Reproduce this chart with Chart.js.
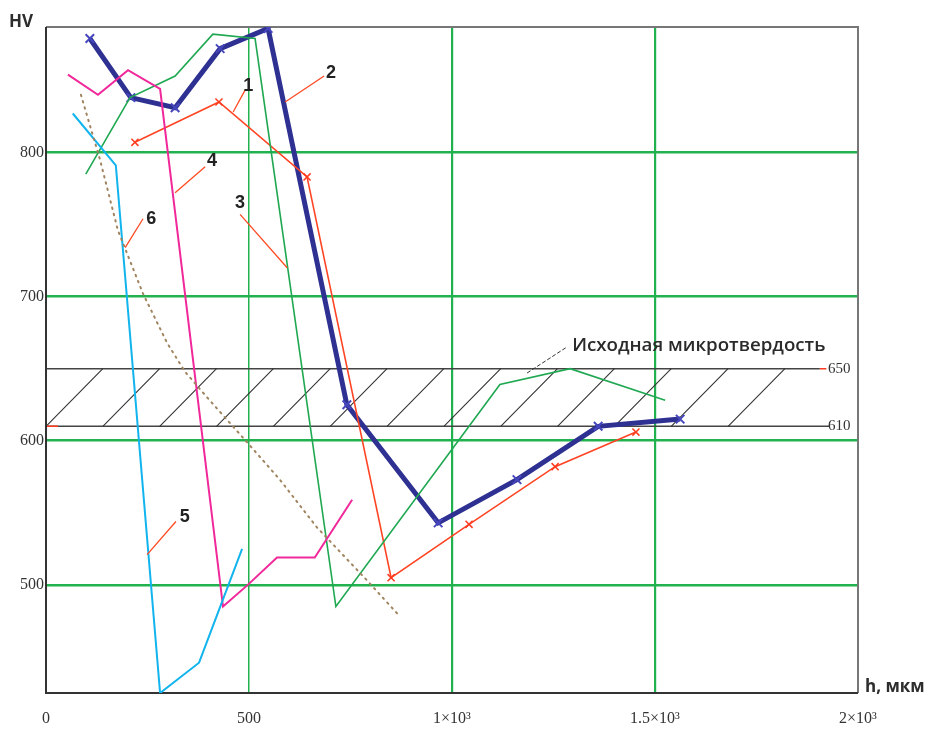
<!DOCTYPE html>
<html>
<head>
<meta charset="utf-8">
<script src="https://cdn.jsdelivr.net/npm/chart.js@4.4.1/dist/chart.umd.min.js"></script>
<style>
html, body { margin: 0; padding: 0; background: #fff; }
</style>
</head>
<body>
<canvas id="c" width="927" height="729"></canvas>
<script>
// ---- data ----
const xTicks = [0, 500, 1000, 1500, 2000];
const xTickLabels = ["0", "500", "1×10³", "1.5×10³", "2×10³"];
const yTicks = [500, 600, 700, 800];

const curve1X = [219, 426, 643, 850, 1042, 1254, 1453];
const curve1Y = [807, 835, 783, 505, 542, 582, 606];

const curve2X = [108, 209, 318, 429, 547, 741, 966, 1160, 1360, 1562];
const curve2Y = [879, 838, 831, 872, 886, 625, 543, 573, 610, 615];

const curve3X = [98, 207, 318, 411, 515, 714, 1118, 1291, 1525];
const curve3Y = [785, 838, 853, 882, 879, 485, 639, 650, 628];

const curve4X = [54, 128, 202, 281, 436, 497, 569, 662, 754];
const curve4Y = [854, 840, 857, 844, 485, 500, 519, 519, 559];

const curve5X = [66, 172, 281, 377, 483];
const curve5Y = [827, 791, 425, 446, 525];

const curve6X = [86, 133, 177, 239, 298, 342, 397, 495, 576, 667, 791, 872];
const curve6Y = [840, 795, 746, 702, 668, 648, 630, 599, 573, 540, 503, 478];

// initial microhardness band
const bandLow = 610;
const bandHigh = 650;

// curve numbers: text position and leader line end
const noteNames = ["1", "2", "3", "4", "5", "6"];
const noteTextX = [498, 702, 478, 409, 342, 259];
const noteTextY = [846, 855, 765, 794, 547, 754];
const noteFromX = [490, 685, 478, 392, 320, 239];
const noteFromY = [843, 853, 757, 790, 544, 754];
const noteToX = [461, 589, 594, 318, 249, 195];
const noteToY = [828, 835, 720, 772, 521, 734];

const toPoints = (xs, ys) => xs.map((v, i) => ({ x: v, y: ys[i] }));

const GRID_GREEN = "#22b14f";

// ---- extra drawing: frame, band, notes ----
const overlay = {
    id: "overlay",
    beforeDatasetsDraw(chart) {
        const { ctx, chartArea: a, scales: { x, y } } = chart;
        const px = v => x.getPixelForValue(v);
        const py = v => y.getPixelForValue(v);
        ctx.save();

        // band lines
        ctx.strokeStyle = "#444";
        ctx.lineWidth = 1.5;
        ctx.beginPath();
        ctx.moveTo(px(0), py(bandHigh));
        ctx.lineTo(px(1906), py(bandHigh));
        ctx.moveTo(px(0), py(bandLow));
        ctx.lineTo(px(1931), py(bandLow));
        ctx.stroke();

        // hatching
        ctx.lineWidth = 1.1;
        ctx.strokeStyle = "#333";
        ctx.beginPath();
        for (let s = 0; s <= 1680; s += 140) {
            ctx.moveTo(px(s), py(bandLow));
            ctx.lineTo(px(s + 140), py(bandHigh));
        }
        ctx.stroke();

        // small red dashes
        ctx.strokeStyle = "#ff3b1f";
        ctx.lineWidth = 1.5;
        ctx.beginPath();
        ctx.moveTo(px(1906), py(bandHigh));
        ctx.lineTo(px(1922), py(bandHigh));
        ctx.moveTo(a.left + 1, py(bandLow));
        ctx.lineTo(a.left + 12, py(bandLow));
        ctx.stroke();

        ctx.fillStyle = "#333";
        ctx.font = "15px 'Liberation Serif'";
        ctx.textAlign = "left";
        ctx.textBaseline = "middle";
        ctx.fillText(String(bandHigh), px(1926), py(bandHigh));
        ctx.fillText(String(bandLow), px(1926), py(bandLow));

        // frame
        ctx.strokeStyle = "#777";
        ctx.lineWidth = 2;
        ctx.beginPath();
        ctx.moveTo(a.left, a.top);
        ctx.lineTo(a.right, a.top);
        ctx.lineTo(a.right, a.bottom);
        ctx.stroke();
        ctx.strokeStyle = "#333";
        ctx.beginPath();
        ctx.moveTo(a.left, a.top);
        ctx.lineTo(a.left, a.bottom);
        ctx.lineTo(a.right, a.bottom);
        ctx.stroke();
        ctx.restore();
    },
    afterDatasetsDraw(chart) {
        const { ctx, scales: { x, y } } = chart;
        const px = v => x.getPixelForValue(v);
        const py = v => y.getPixelForValue(v);
        ctx.save();

        // leader lines
        ctx.strokeStyle = "#ff4a22";
        ctx.lineWidth = 1.3;
        ctx.beginPath();
        noteNames.forEach((n, i) => {
            ctx.moveTo(px(noteFromX[i]), py(noteFromY[i]));
            ctx.lineTo(px(noteToX[i]), py(noteToY[i]));
        });
        ctx.stroke();

        ctx.fillStyle = "#222";
        ctx.font = "bold 18px 'Liberation Sans'";
        ctx.textAlign = "center";
        ctx.textBaseline = "middle";
        noteNames.forEach((n, i) => {
            ctx.fillText(n, px(noteTextX[i]), py(noteTextY[i]));
        });

        // band note
        ctx.strokeStyle = "#333";
        ctx.lineWidth = 1;
        ctx.setLineDash([4, 2]);
        ctx.beginPath();
        ctx.moveTo(px(1185), py(647));
        ctx.lineTo(px(1283), py(665));
        ctx.stroke();
        ctx.setLineDash([]);
        ctx.textAlign = "left";
        ctx.font = "600 18.7px 'Open Sans'";
        ctx.fillStyle = "#2a2a2a";
        ctx.fillText("Исходная микротвердость", px(1296), py(666));

        // axis titles
        ctx.font = "bold 17px 'Open Sans'";
        ctx.fillStyle = "#2d2d2d";
        ctx.fillText("HV", 9, 22);
        ctx.fillText("h, мкм", 865, 687);
        ctx.restore();
    }
};

new Chart(document.getElementById("c"), {
    type: "line",
    data: {
        datasets: [
            {
                label: "6",
                data: toPoints(curve6X, curve6Y),
                borderColor: "#a0845f",
                borderWidth: 2,
                borderDash: [1.5, 5],
                borderCapStyle: "round",
                pointRadius: 0
            },
            {
                label: "5",
                data: toPoints(curve5X, curve5Y),
                borderColor: "#12b4ee",
                borderWidth: 2,
                pointRadius: 0
            },
            {
                label: "4",
                data: toPoints(curve4X, curve4Y),
                borderColor: "#f0289a",
                borderWidth: 2,
                pointRadius: 0
            },
            {
                label: "3",
                data: toPoints(curve3X, curve3Y),
                borderColor: "#1fa851",
                borderWidth: 1.6,
                pointRadius: 0
            },
            {
                label: "1",
                data: toPoints(curve1X, curve1Y),
                borderColor: "#ff4424",
                borderWidth: 1.6,
                pointStyle: "crossRot",
                pointRadius: 5,
                pointBorderWidth: 1.5,
                pointBorderColor: "#ff3b1f"
            },
            {
                label: "2",
                data: toPoints(curve2X, curve2Y),
                borderColor: "#2e3192",
                borderWidth: 5,
                pointStyle: "crossRot",
                pointRadius: 6,
                pointBorderWidth: 2,
                pointBorderColor: "#4747bd"
            }
        ]
    },
    options: {
        responsive: false,
        animation: false,
        layout: { padding: { top: 27, right: 69, left: 0, bottom: 0 } },
        plugins: {
            legend: { display: false },
            tooltip: { enabled: false }
        },
        elements: { line: { tension: 0 } },
        scales: {
            x: {
                type: "linear",
                min: 0,
                max: 2000,
                afterBuildTicks: s => { s.ticks = xTicks.map(v => ({ value: v })); },
                afterFit: s => { s.height = 36; },
                border: { display: false },
                grid: {
                    drawTicks: false,
                    color: c => (c.tick.value === 0 || c.tick.value === 2000) ? "rgba(0,0,0,0)" : GRID_GREEN,
                    lineWidth: c => c.tick.value === 500 ? 1.5 : 2.2
                },
                ticks: {
                    padding: 16,
                    color: "#333",
                    font: { family: "'Liberation Serif'", size: 16 },
                    callback: v => xTickLabels[xTicks.indexOf(v)]
                }
            },
            y: {
                type: "linear",
                min: 425,
                max: 887,
                afterBuildTicks: s => { s.ticks = yTicks.map(v => ({ value: v })); },
                afterFit: s => { s.width = 46; },
                border: { display: false },
                grid: {
                    drawTicks: false,
                    color: GRID_GREEN,
                    lineWidth: 2.5
                },
                ticks: {
                    padding: 2,
                    color: "#333",
                    font: { family: "'Liberation Serif'", size: 16 }
                }
            }
        }
    },
    plugins: [overlay]
});
</script>
</body>
</html>
